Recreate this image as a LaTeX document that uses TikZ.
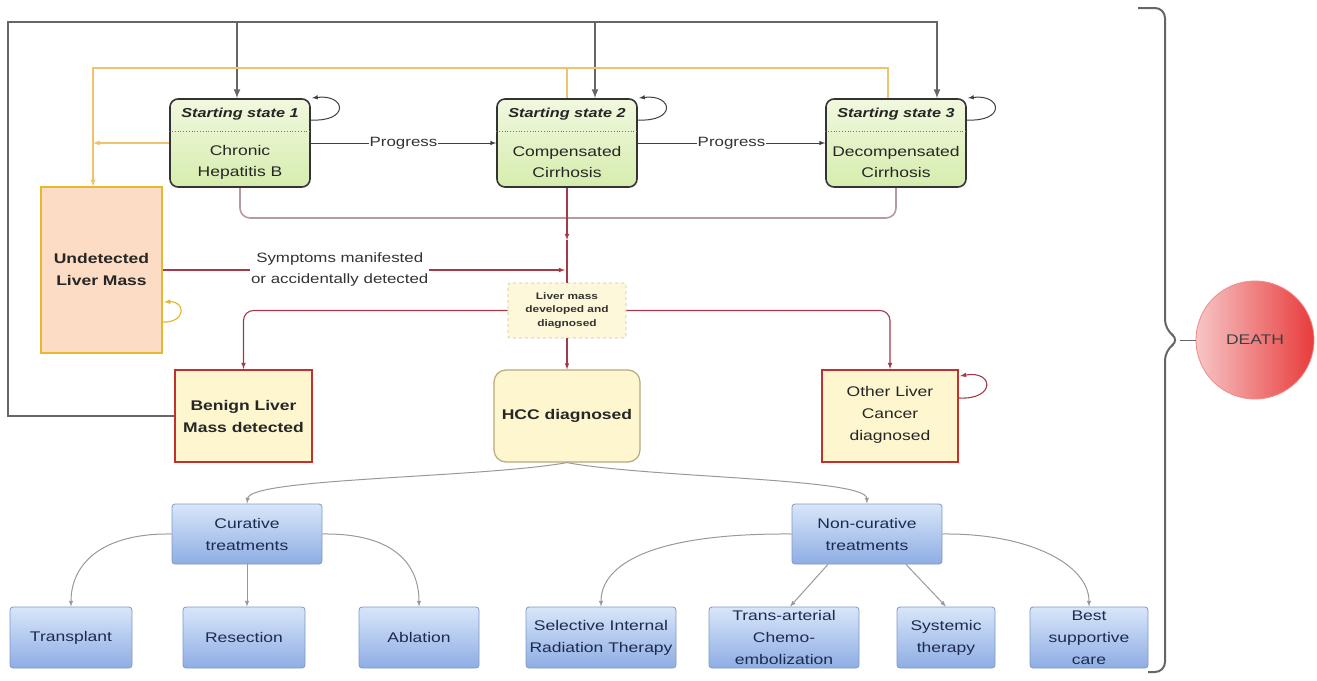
\documentclass[tikz,border=0pt]{standalone}
\usepackage{fontspec}
\setmainfont{Liberation Sans}[FakeStretch=1.25]
\usepackage{tikz}

\definecolor{ssgreenT}{HTML}{F1F8DF}
\definecolor{ssgreenB}{HTML}{D6EDAE}
\definecolor{peach}{HTML}{FCDCC4}
\definecolor{gold}{HTML}{E4B830}
\definecolor{paleyel}{HTML}{FDF6CF}
\definecolor{boxred}{HTML}{C4302E}
\definecolor{tan}{HTML}{B8A87C}
\definecolor{blueT}{HTML}{D8E6F9}
\definecolor{blueB}{HTML}{8EADE4}
\definecolor{blueD}{HTML}{7E98C6}
\definecolor{bluetxt}{HTML}{1C2B4F}
\definecolor{maroon}{HTML}{A33A48}
\definecolor{orline}{HTML}{F0C26E}
\definecolor{deathL}{HTML}{F7C6C6}
\definecolor{deathR}{HTML}{E83B3B}

\tikzset{
	ssbox/.style={draw=black!80, line width=1.6pt, rounded corners=8pt, top color=ssgreenT, bottom color=ssgreenB, minimum width=140pt, minimum height=88pt},
	sshead/.style={font=\fontsize{13}{16}\selectfont\bfseries\itshape, text=black!85, inner sep=0pt},
	sstext/.style={font=\fontsize{14}{21}\selectfont, text=black!85, align=center, inner sep=0pt},
	bigtext/.style={font=\fontsize{14}{22}\selectfont\bfseries, text=black!85, align=center, inner sep=0pt},
	statebox/.style={fill=paleyel, draw=boxred, line width=2pt, minimum width=137pt, minimum height=92pt},
	treatbox/.style={draw=blueD, line width=0.8pt, rounded corners=3pt, top color=blueT, bottom color=blueB, minimum height=61pt, font=\fontsize{14}{22}\selectfont, text=bluetxt, align=center, inner sep=0pt},
	darkline/.style={draw=black!75, line width=1pt},
	frameline/.style={draw=black!60, line width=2pt},
	redline/.style={draw=maroon, line width=1.1pt},
	orangeline/.style={draw=orline, line width=1.3pt},
	grayline/.style={draw=black!40, line width=1pt},
	lbl/.style={fill=white, inner sep=1pt, text=black!80}
}

\begin{document}
\begin{tikzpicture}[x=1pt,y=-1pt]

		\useasboundingbox (0,0) rectangle (1317,680);

		\node[ssbox] (ss1) at (240,143) {};
		\node[sshead] (ss1h) at (240,114) {Starting state 1};
		\node[sstext] (ss1t) at (240,162) {Chronic\\Hepatitis B};
		\node[ssbox] (ss2) at (567,143) {};
		\node[sshead] (ss2h) at (567,114) {Starting state 2};
		\node[sstext] (ss2t) at (567,162) {Compensated\\Cirrhosis};
		\node[ssbox] (ss3) at (896,143) {};
		\node[sshead] (ss3h) at (896,114) {Starting state 3};
		\node[sstext] (ss3t) at (896,162) {Decompensated\\Cirrhosis};
		\draw[black!55, dotted, line width=0.8pt] (ss1.west |- 0,131) -- (ss1.east |- 0,131);
		\draw[black!55, dotted, line width=0.8pt] (ss2.west |- 0,131) -- (ss2.east |- 0,131);
		\draw[black!55, dotted, line width=0.8pt] (ss3.west |- 0,131) -- (ss3.east |- 0,131);

		\node[fill=peach, draw=gold, line width=1.5pt, minimum width=121pt, minimum height=166pt] (ulm) at (101.5,270) {};
		\node[bigtext] (ulmt) at (101.5,269) {Undetected\\Liver Mass};

		\node[fill=paleyel!80!white, draw=tan!70, dashed, line width=0.6pt, rounded corners=2pt, minimum width=118pt, minimum height=55pt, align=center, inner sep=0pt, font=\fontsize{9.5}{13.5}\selectfont\bfseries, text=black!80] (lm) at (567,310.5) {Liver mass\\developed and\\diagnosed};

		\node[statebox] (bl) at (243.5,416) {};
		\node[bigtext] (blt) at (243.5,416) {Benign Liver\\Mass detected};
		\node[fill=paleyel, draw=tan, line width=1.2pt, rounded corners=12pt, minimum width=146pt, minimum height=92pt, font=\fontsize{14}{22}\selectfont\bfseries, text=black!85] (hcc) at (567,416) {HCC diagnosed};
		\node[statebox, minimum width=136pt] (olc) at (890,416) {};
		\node[sstext, font=\fontsize{14}{22}\selectfont] (olct) at (890,415) {Other Liver\\Cancer\\diagnosed};

		\node[treatbox, minimum width=150pt, minimum height=60pt] (cur) at (247,534) {Curative\\treatments};
		\node[treatbox, minimum width=150pt, minimum height=60pt] (ncur) at (867,534) {Non-curative\\treatments};

		\node[treatbox, minimum width=122pt] (tr) at (71,637.5) {Transplant};
		\node[treatbox, minimum width=122pt] (res) at (244,637.5) {Resection};
		\node[treatbox, minimum width=120pt] (abl) at (419,637.5) {Ablation};
		\node[treatbox, minimum width=150pt] (sirt) at (601,637.5) {Selective Internal\\Radiation Therapy};
		\node[treatbox, minimum width=150pt] (tace) at (784,637.5) {Trans-arterial\\Chemo-\\embolization};
		\node[treatbox, minimum width=98pt] (sys) at (946,637.5) {Systemic\\therapy};
		\node[treatbox, minimum width=118pt] (bsc) at (1089,637.5) {Best\\supportive\\care};

		\node[circle, draw=deathR!60, line width=0.8pt, left color=deathL, right color=deathR, minimum size=118pt, font=\fontsize{14}{16}\selectfont, text=black!75] (death) at (1255,340) {DEATH};

		\coordinate (fr1) at (8,22);
		\coordinate (fr2) at (937,22);
		\coordinate (fr3) at (237,22);
		\coordinate (fr4) at (595,22);
		\coordinate (or1) at (93,68);
		\coordinate (or2) at (888,68);
		\coordinate (join) at (567,218);
		\coordinate (mid) at (567,240);
		\coordinate (symend) at (565,270);
		\coordinate (btop) at (1138,8);
		\coordinate (bbot) at (1148,672);
		\coordinate (btip) at (1180,340);


		\draw[frameline, -latex] (bl.west) -| (fr1) -- (fr2) -- (fr2 |- ss3.north);
		\draw[frameline, -latex] (fr3) -- (fr3 |- ss1.north);
		\draw[frameline, -latex] (fr4) -- (fr4 |- ss2.north);

		\draw[orangeline, -latex] (or2 |- ss3.north) -- (or2) -- (or1) -- (or1 |- ulm.north);
		\draw[orangeline] (ss2.north) -- (ss2.north |- or1);
		\draw[orangeline, -latex] (ss1.west) -- (ss1.west -| or1);

		\draw[darkline, -latex] (ss1.east) -- node[lbl, font=\fontsize{13.5}{16}\selectfont]{Progress} (ss2.west);
		\draw[darkline, -latex] (ss2.east) -- node[lbl, font=\fontsize{13.5}{16}\selectfont]{Progress} (ss3.west);

		\draw[darkline, -latex] (ss1.east |- 0,120) .. controls (350,122) and (346,94) .. (312,98);
		\draw[darkline, -latex] (ss2.east |- 0,120) .. controls (677,122) and (673,94) .. (639,98);
		\draw[darkline, -latex] (ss3.east |- 0,120) .. controls (1006,122) and (1002,94) .. (968,98);

		\draw[draw=maroon!55!black!45, line width=1.6pt, rounded corners=10pt] (ss1.south) |- (join) -| (ss3.south);
		\draw[redline, -latex] (ss2.south) -- (mid);
		\draw[redline] (mid) -- (lm.north);
		\draw[redline, -latex] (ulm.east |- symend) -- node[lbl, align=center, font=\fontsize{13.5}{21}\selectfont, pos=0.44]{Symptoms manifested\\or accidentally detected} (symend);
		\draw[draw=gold, line width=1.2pt, -latex] (ulm.east |- 0,322) .. controls (186,323) and (186,301) .. (164,302);

		\draw[redline, -latex, rounded corners=10pt] (lm.west) -| (bl.north);
		\draw[redline, -latex, rounded corners=10pt] (lm.east) -| (olc.north);
		\draw[redline, -latex] (lm.south) -- (hcc.north);
		\draw[redline, -latex] (olc.east |- 0,398) .. controls (996,400) and (994,370) .. (960,376);

		\draw[grayline, -latex] (hcc.south) .. controls (480,478) and (250,478) .. (cur.north);
		\draw[grayline, -latex] (hcc.south) .. controls (650,478) and (866,478) .. (ncur.north);

		\draw[grayline, -latex] (cur.west) .. controls (100,533) and (71,565) .. (tr.north);
		\draw[grayline, -latex] (cur.south) -- (cur.south |- res.north);
		\draw[grayline, -latex] (cur.east) .. controls (395,533) and (419,565) .. (abl.north);

		\draw[grayline, -latex] (ncur.west) .. controls (650,533) and (601,565) .. (sirt.north);
		\draw[grayline, -latex] ([xshift=-39pt]ncur.south) -- ([xshift=6pt]tace.north);
		\draw[grayline, -latex] ([xshift=39pt]ncur.south) -- (sys.north);
		\draw[grayline, -latex] (ncur.east) .. controls (1030,533) and (1089,565) .. (bsc.north);

		\draw[frameline, rounded corners=10pt] (btop) -- (1165,8) -- (1165,330) -- (btip) -- (1165,350) -- (1165,672) -- (bbot);
		\draw[black!60, line width=1pt] (btip) -- (death.west);

	\end{tikzpicture}
\end{document}
